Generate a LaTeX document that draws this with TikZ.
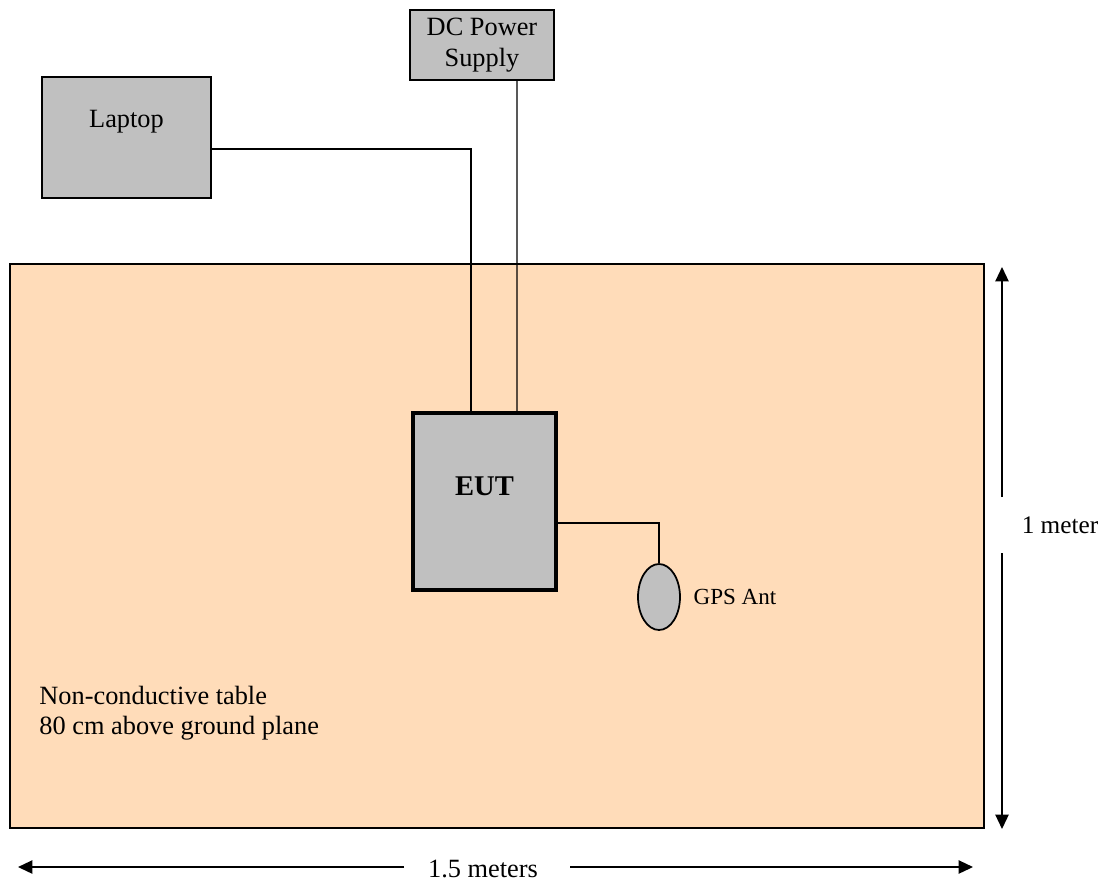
\documentclass[tikz,border=0pt]{standalone}
\usepackage{fontspec}
\setmainfont{Liberation Serif}
\usepackage{xcolor}
\usetikzlibrary{positioning, arrows.meta, shapes.geometric}

\definecolor{tablepeach}{RGB}{255,220,185}
\definecolor{boxgray}{RGB}{192,192,192}

\begin{document}
\begin{tikzpicture}[
  x=0.016cm, y=-0.016cm,
  font=\fontsize{12pt}{13.8pt}\selectfont,
  unit/.style={draw, fill=boxgray, line width=0.8pt, align=center, inner sep=0pt},
  wire/.style={line width=0.6pt},
  dim/.style={-{Triangle[length=6.5pt, width=6pt]}, line width=0.7pt},
]
  \useasboundingbox (0,0) rectangle (1105,883);

  % table
  \node[draw, fill=tablepeach, line width=0.9pt, minimum width=15.584cm, minimum height=9.024cm] (table) at (497,546) {};
  \node[anchor=west, align=left, inner sep=0pt] (note) at (39,713) {Non-conductive table\\80 cm above ground plane};

  % units
  \node[unit, line width=1pt, minimum width=2.304cm, minimum height=1.12cm] (dc) at (482,45) {DC Power\\Supply};
  \node[unit, minimum width=2.704cm, minimum height=1.936cm,
        label={[anchor=center, yshift=-0.736cm]north:Laptop}] (laptop) at (126.5,137.5) {};
  \node[unit, line width=1.6pt, minimum width=2.288cm, minimum height=2.832cm,
        label={[anchor=center, yshift=-1.2cm, font=\bfseries\fontsize{13pt}{15pt}\selectfont]north:EUT}] (eut) at (484.5,501.5) {};
  \node[unit, ellipse, minimum width=0.672cm, minimum height=1.056cm] (gps) at (659,597) {};
  \node[right=0.08cm of gps, font=\fontsize{10.5pt}{12pt}\selectfont] (gpslbl) {GPS Ant};

  % cables
  \draw[wire] ([yshift=-0.184cm]laptop.east) -| ([xshift=-0.216cm]eut.north);
  \draw[wire] ([xshift=0.56cm]dc.south) -- ([xshift=0.52cm]eut.north);
  \draw[wire] ([yshift=-0.344cm]eut.east) -| (gps.north);

  % dimensions
  \node[font=\fontsize{11.5pt}{13pt}\selectfont] (meter) at (1060,525) {1 meter};
  \coordinate (vtop) at (1002,267);
  \coordinate (vup) at (1002,497);
  \coordinate (vlow) at (1002,553);
  \coordinate (vbot) at (1002,829);
  \draw[dim] (vup) -- (vtop);
  \draw[dim] (vlow) -- (vbot);

  \node[inner sep=0pt] (meters) at (483,869) {1.5 meters};
  \coordinate (hleft) at (18,867);
  \coordinate (hup) at (404,867);
  \coordinate (hlow) at (570,867);
  \coordinate (hright) at (973,867);
  \draw[dim] (hup) -- (hleft);
  \draw[dim] (hlow) -- (hright);
\end{tikzpicture}
\end{document}
